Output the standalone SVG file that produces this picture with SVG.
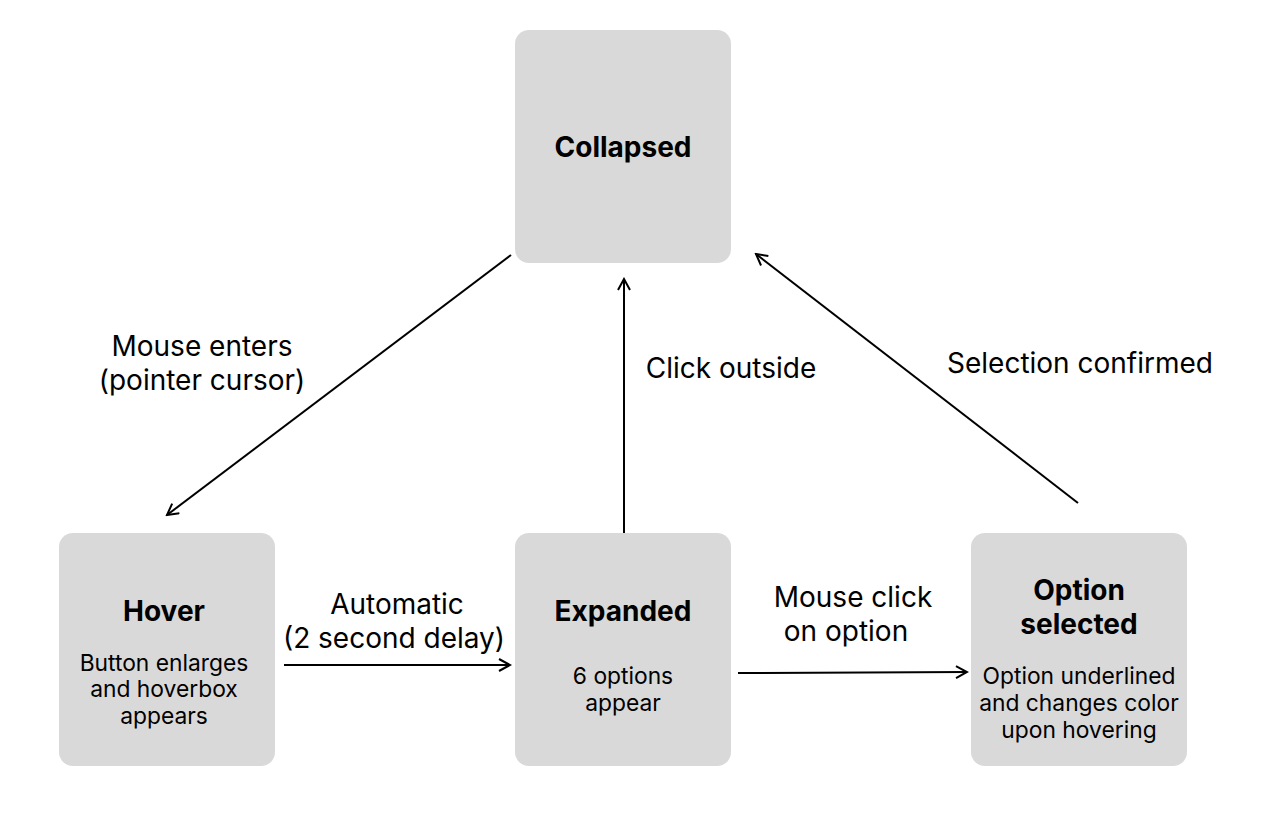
<svg xmlns="http://www.w3.org/2000/svg" width="1280" height="814" viewBox="0 0 1280 814">
<style>
.box{fill:#d9d9d9}
.t{font-family:Inter,"Noto Sans","Liberation Sans",sans-serif;fill:#000;text-anchor:middle}
.title{font-size:28px;font-weight:700}
.sub{font-size:22.8px}
.lbl{font-size:28px}
.c{stroke:#000;stroke-width:2;fill:none}
</style>
<defs>
<marker id="ah" viewBox="0 0 14 14" refX="12" refY="7" markerWidth="14" markerHeight="14" markerUnits="userSpaceOnUse" orient="auto">
<path d="M1,1 L12,7 L1,13" fill="none" stroke="#000" stroke-width="2"/>
</marker>
</defs>
<rect width="1280" height="814" fill="#fff"/>
<g id="collapsed">
<rect class="box" x="515" y="30" width="216" height="233" rx="14"/>
<text class="t title" x="623" y="157">Collapsed</text>
</g>
<g id="hover">
<rect class="box" x="59" y="533" width="216" height="233" rx="14"/>
<text class="t title" x="164" y="621">Hover</text>
<text class="t sub" x="164" y="671">Button enlarges</text>
<text class="t sub" x="164" y="697">and hoverbox</text>
<text class="t sub" x="164" y="724">appears</text>
</g>
<g id="expanded">
<rect class="box" x="515" y="533" width="216" height="233" rx="14"/>
<text class="t title" x="623" y="621">Expanded</text>
<text class="t sub" x="623" y="684">6 options</text>
<text class="t sub" x="623" y="711">appear</text>
</g>
<g id="option-selected">
<rect class="box" x="971" y="533" width="216" height="233" rx="14"/>
<text class="t title" x="1079" y="600">Option</text>
<text class="t title" x="1079" y="634">selected</text>
<text class="t sub" x="1079" y="684">Option underlined</text>
<text class="t sub" x="1079" y="711">and changes color</text>
<text class="t sub" x="1079" y="738">upon hovering</text>
</g>
<g id="connectors">
<line class="c" x1="511" y1="255" x2="167" y2="515" marker-end="url(#ah)"/>
<line class="c" x1="624" y1="533" x2="624" y2="279" marker-end="url(#ah)"/>
<line class="c" x1="1078" y1="503" x2="756" y2="254" marker-end="url(#ah)"/>
<line class="c" x1="284" y1="665" x2="510" y2="665" marker-end="url(#ah)"/>
<line class="c" x1="738" y1="673" x2="967" y2="672" marker-end="url(#ah)"/>
<text class="t lbl" x="202" y="356">Mouse enters</text>
<text class="t lbl" x="202" y="390">(pointer cursor)</text>
<text class="t lbl" x="731" y="378">Click outside</text>
<text class="t lbl" x="1080" y="373">Selection confirmed</text>
<text class="t lbl" x="397" y="614">Automatic</text>
<text class="t lbl" x="394" y="648">(2 second delay)</text>
<text class="t lbl" x="853" y="607">Mouse click</text>
<text class="t lbl" x="846" y="641">on option</text>
</g>
</svg>
